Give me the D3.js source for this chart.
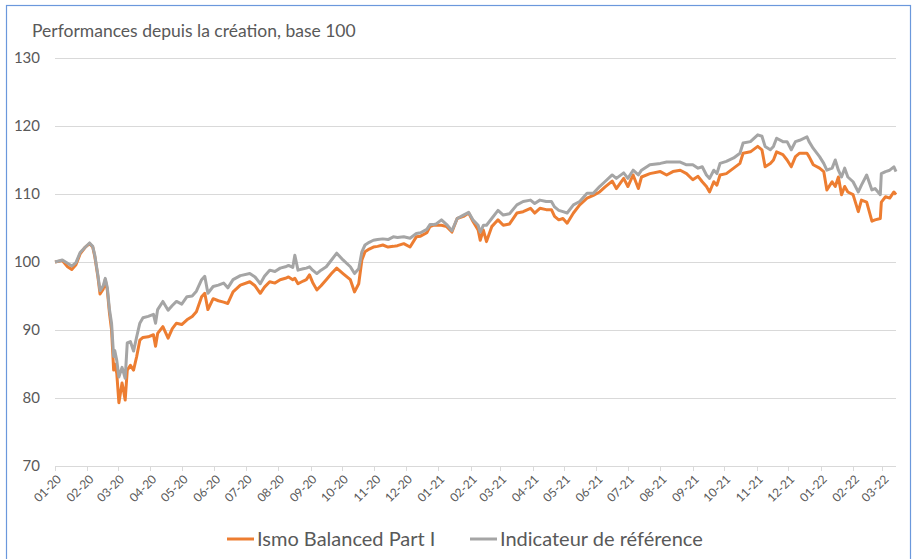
<!DOCTYPE html>
<html lang="fr">
<head>
    <meta charset="UTF-8">
    <title>Performances depuis la création, base 100</title>
    <style>
        body { margin: 0; background: #fff; font-family: Lato, "Open Sans", sans-serif; }
        .grid line { stroke: #d9d9d9; stroke-width: 1; }
        .tick-label { fill: #595959; }
    </style>
</head>
<body>
<div id="chart"></div>
<script src="https://d3js.org/d3.v7.min.js"></script>
<script>
// Data (dates, base 100)
const dates = [
    '2020-01-01','2020-01-08','2020-01-13','2020-01-17','2020-01-21','2020-01-25','2020-01-30',
    '2020-02-03','2020-02-06','2020-02-08','2020-02-11','2020-02-13','2020-02-16','2020-02-18',
    '2020-02-20','2020-02-22','2020-02-24','2020-02-26','2020-02-27','2020-02-29',
    '2020-03-02','2020-03-05','2020-03-06','2020-03-08','2020-03-10','2020-03-13','2020-03-16',
    '2020-03-19','2020-03-22','2020-03-25','2020-03-30',
    '2020-04-04','2020-04-06','2020-04-08','2020-04-13','2020-04-18','2020-04-22','2020-04-26',
    '2020-05-01','2020-05-06','2020-05-11','2020-05-15','2020-05-20','2020-05-23','2020-05-26','2020-05-31',
    '2020-06-05','2020-06-10','2020-06-14','2020-06-19','2020-06-26',
    '2020-07-05','2020-07-10','2020-07-15','2020-07-19','2020-07-24','2020-07-29',
    '2020-08-03','2020-08-08','2020-08-11','2020-08-15','2020-08-17','2020-08-20','2020-08-25','2020-08-28','2020-08-31',
    '2020-09-03','2020-09-07','2020-09-11','2020-09-16','2020-09-21','2020-09-26',
    '2020-10-02','2020-10-09','2020-10-13','2020-10-17','2020-10-20','2020-10-23','2020-10-27','2020-10-31',
    '2020-11-04','2020-11-09','2020-11-14','2020-11-19','2020-11-23','2020-11-29',
    '2020-12-05','2020-12-11','2020-12-15','2020-12-21','2020-12-24','2020-12-27','2020-12-30',
    '2021-01-04','2021-01-09','2021-01-14','2021-01-19','2021-01-25','2021-01-30',
    '2021-02-03','2021-02-08','2021-02-10','2021-02-13','2021-02-16','2021-02-21','2021-02-27',
    '2021-03-04','2021-03-10','2021-03-17','2021-03-23','2021-03-30',
    '2021-04-03','2021-04-08','2021-04-14','2021-04-19','2021-04-22','2021-04-26','2021-04-30',
    '2021-05-04','2021-05-10','2021-05-16','2021-05-23','2021-05-29',
    '2021-06-04','2021-06-09','2021-06-16','2021-06-20','2021-06-27',
    '2021-07-01','2021-07-06','2021-07-11','2021-07-14','2021-07-22',
    '2021-08-01','2021-08-07','2021-08-13','2021-08-20','2021-08-26',
    '2021-09-01','2021-09-06','2021-09-10','2021-09-14','2021-09-17','2021-09-21','2021-09-24','2021-09-27',
    '2021-10-03','2021-10-10','2021-10-16','2021-10-19','2021-10-26',
    '2021-11-02','2021-11-06','2021-11-09','2021-11-14','2021-11-17','2021-11-20','2021-11-26','2021-11-30',
    '2021-12-04','2021-12-08','2021-12-12','2021-12-19','2021-12-21','2021-12-25','2021-12-31',
    '2022-01-04','2022-01-07','2022-01-12','2022-01-15','2022-01-18','2022-01-21','2022-01-24','2022-01-27',
    '2022-02-01','2022-02-06','2022-02-09','2022-02-14','2022-02-19','2022-02-22','2022-02-27','2022-02-28',
    '2022-03-04','2022-03-08','2022-03-12','2022-03-14'
];

const ismo = [
    100, 100.2, 99.3, 98.9, 99.6, 101.2, 102.2,
    102.7, 102.2, 100.8, 97.8, 95.3, 96, 97.4,
    95.8, 92.5, 90, 84.1, 85, 83.6,
    79.3, 82.2, 81.5, 79.7, 84.1, 84.8, 84.1,
    86.1, 88.5, 88.9, 89,
    89.3, 87.6, 89.5, 90.5, 88.8, 90.2, 91,
    90.8, 91.5, 92, 92.7, 94.9, 95.4, 93, 94.6,
    94.3, 94.1, 93.9, 95.6, 96.6,
    97.1, 96.5, 95.4, 96.3, 97.1, 96.9,
    97.4, 97.6, 97.8, 97.4, 97.6, 96.8, 97.2, 97.4, 98.1,
    97, 95.9, 96.5, 97.4, 98.3, 99.1,
    98.3, 97.4, 95.6, 96.8, 100.3, 101.5, 101.9, 102.2,
    102.3, 102.5, 102.2, 102.3, 102.4, 102.7,
    102.2, 103.7, 103.8, 104.3, 105.2, 105.4, 105.4,
    105.4, 105.2, 104.4, 106.4, 106.7, 107.2,
    106, 104.7, 103.2, 104.7, 103, 105.2, 106.2,
    105.4, 105.6, 107.2, 107.4, 107.9,
    107.2, 107.9, 107.7, 107.7, 106.7, 106.2, 106.4,
    105.7, 107.2, 108.4, 109.4, 109.8,
    110.3, 111, 111.9, 110.8, 112.3,
    111.1, 112.8, 110.8, 112.5, 113,
    113.3, 112.8, 113.3, 113.5, 113,
    112.1, 112.6, 111.8, 111.1, 110.3, 111.8, 111.3, 112.8,
    113, 113.8, 114.5, 116, 116.2,
    117, 116.5, 114, 114.5, 115, 116.2, 115.8, 115,
    114, 115.5, 116, 116, 115.5, 114.3, 113.8,
    113.3, 110.6, 111.8, 111.1, 112.5, 109.9, 111.1, 110.3,
    109.9, 107.4, 109.1, 108.8, 106, 106.2, 106.4, 108.8,
    109.6, 109.4, 110.3, 109.9
];

const indicateur = [
    100, 100.3, 99.8, 99.4, 99.9, 101.4, 102.2,
    102.8, 102.3, 101, 98, 95.8, 96.5, 97.6,
    96.2, 93, 91, 86.1, 87, 85.5,
    83.1, 84.5, 84, 82.9, 88.1, 88.3, 86.9,
    89, 91, 91.8, 92,
    92.3, 91, 93, 94.2, 92.9, 93.6, 94.2,
    93.8, 94.9, 95, 95.7, 97.4, 97.9, 95.4, 96.4,
    96.6, 96.9, 96.2, 97.4, 98,
    98.3, 97.8, 96.8, 97.9, 98.8, 98.6,
    99.1, 99.3, 99.5, 99.2, 101, 98.8, 99, 99.1, 99.3,
    98.8, 98.3, 98.8, 99.3, 100.3, 101.3,
    100.3, 99.3, 98.3, 99, 101.5, 102.5, 102.9, 103.2,
    103.3, 103.4, 103.3, 103.7, 103.6, 103.7,
    103.5, 104.2, 104.3, 104.8, 105.5, 105.5, 105.6,
    106.2, 105.5, 104.6, 106.4, 106.9, 107.3,
    106.2, 105.4, 104.4, 105.4, 105.4, 106.4, 107.6,
    106.9, 107.1, 108.4, 108.9, 109.1,
    108.6, 109.1, 108.9, 108.9, 108.1, 107.6, 107.4,
    107.2, 108.4, 108.9, 110.1, 110.1,
    111.1, 111.8, 112.8, 112.3, 113.1,
    112.3, 113.5, 112.8, 113.5, 114.3,
    114.5, 114.7, 114.7, 114.7, 114.3,
    114.3, 113.8, 114, 112.8, 112.3, 113.5, 113, 114.5,
    114.8, 115.3, 116, 117.5, 117.7,
    118.7, 118.5, 117, 116.5, 117, 118.2, 117.7, 117.7,
    116.5, 117.7, 117.9, 118.4, 117.7, 116.7, 115.5,
    114.5, 113.5, 113.8, 115, 113.5, 112.5, 113.8, 112.5,
    111.8, 110.3, 111.3, 112.8, 110.6, 110.8, 109.9, 113,
    113.3, 113.5, 114, 113.3
];

const yTicks = [70, 80, 90, 100, 110, 120, 130];
const seriesNames = ['Ismo Balanced Part I', 'Indicateur de référence'];
const seriesColors = ['#ed7d31', '#a5a5a5'];
const chartTitle = 'Performances depuis la création, base 100';

const W = 913, H = 559;
const parse = d3.timeParse('%Y-%m-%d');
const fmt = d3.timeFormat('%m-%y');

const svg = d3.select('#chart').append('svg')
    .attr('width', W).attr('height', H);

svg.append('rect').attr('width', W).attr('height', H).attr('fill', '#fff');
svg.append('rect')
    .attr('x', 6.5).attr('y', 5.5).attr('width', 904).attr('height', 570)
    .attr('fill', 'none').attr('stroke', '#6b98dc').attr('stroke-width', 1.2);

const x = d3.scaleTime()
    .domain([parse('2020-01-01'), parse('2022-03-14')])
    .range([55, 896]);
const y = d3.scaleLinear().domain([70, 130]).range([466, 58]);

// gridlines
svg.append('g').attr('class', 'grid')
    .selectAll('line').data(yTicks).join('line')
    .attr('x1', 55).attr('x2', 896)
    .attr('y1', d => Math.round(y(d)) + 0.5).attr('y2', d => Math.round(y(d)) + 0.5);

// y labels
svg.append('g').selectAll('text').data(yTicks).join('text')
    .attr('class', 'tick-label')
    .attr('x', 40).attr('y', d => y(d))
    .attr('dy', '0.35em')
    .attr('text-anchor', 'end')
    .style('font-size', '15px')
    .text(d => d);

// x ticks (monthly)
const months = d3.timeMonth.range(parse('2020-01-01'), parse('2022-03-14'));
const xg = svg.append('g');
xg.selectAll('line').data(months).join('line')
    .attr('x1', d => Math.round(x(d)) + 0.5).attr('x2', d => Math.round(x(d)) + 0.5)
    .attr('y1', 466).attr('y2', 471)
    .attr('stroke', '#d9d9d9');
xg.selectAll('text').data(months).join('text')
    .attr('class', 'tick-label')
    .attr('transform', d => `translate(${x(d) + 4},${477}) rotate(-45)`)
    .attr('text-anchor', 'end')
    .attr('dy', '0.35em')
    .style('font-size', '12px')
    .text(d => fmt(d));

// lines
const line = d3.line()
    .x((d, i) => x(parse(dates[i])))
    .y(d => y(d));

[ismo, indicateur].forEach((vals, k) => {
    svg.append('path')
        .datum(vals)
        .attr('fill', 'none')
        .attr('stroke', seriesColors[k])
        .attr('stroke-width', 3)
        .attr('stroke-linejoin', 'round')
        .attr('d', line);
});

// title
svg.append('text')
    .attr('x', 32).attr('y', 37)
    .attr('fill', '#595959')
    .style('font-size', '17.5px')
    .text(chartTitle);

// legend
const legendX = [227, 470];
seriesNames.forEach((name, k) => {
    const g = svg.append('g').attr('transform', `translate(${legendX[k]},539)`);
    g.append('line').attr('x1', 0).attr('x2', 27)
        .attr('stroke', seriesColors[k]).attr('stroke-width', 3);
    g.append('text').attr('x', 30).attr('dy', '0.35em')
        .attr('fill', '#595959')
        .style('font-size', '20px')
        .text(name);
});
</script>
</body>
</html>
